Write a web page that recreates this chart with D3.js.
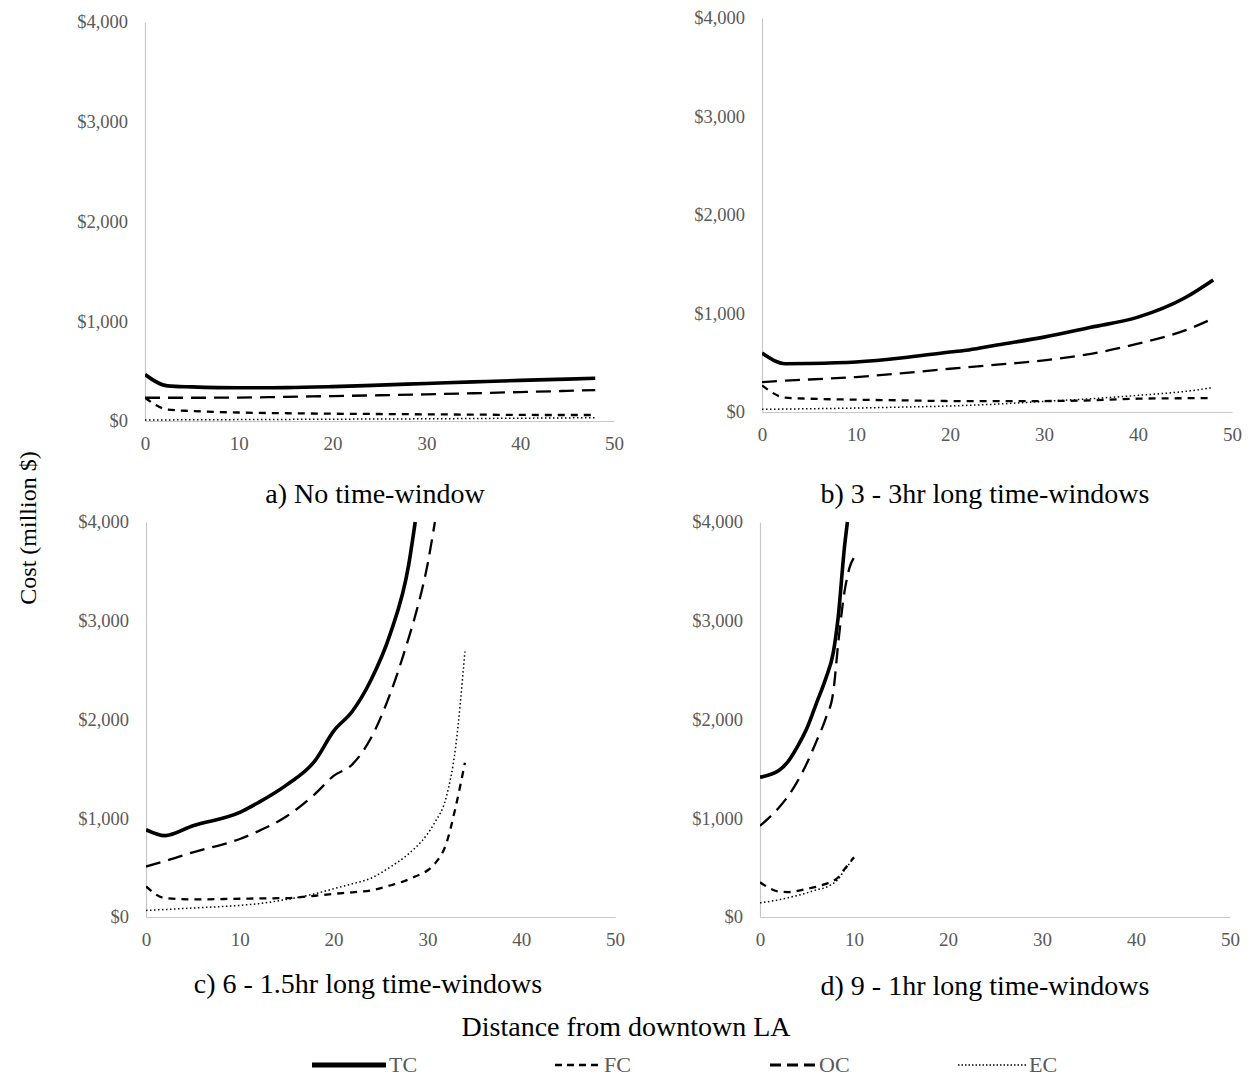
<!DOCTYPE html>
<html>
<head>
<meta charset="utf-8">
<script src="https://cdn.jsdelivr.net/npm/d3@7"></script>
<style>
  html, body { margin: 0; padding: 0; background: #fff; }
  svg { display: block; }
  text { font-family: "Liberation Serif", "DejaVu Serif", serif; }
</style>
</head>
<body>
<svg id="chart" width="1252" height="1078"></svg>
<script>
// ---------- DATA ----------
const seriesNames = ["TC", "FC", "OC", "EC"];
const yTicks = [0, 1000, 2000, 3000, 4000];
const xTicks = [0, 10, 20, 30, 40, 50];
const panelTitles = ["a) No time-window", "b) 3 - 3hr long time-windows",
                     "c) 6 - 1.5hr long time-windows", "d) 9 - 1hr long time-windows"];

// Panel a
const distA = [0, 2.4, 5, 10, 15, 20, 25, 30, 35, 40, 45, 48];
const tcA = [467, 352, 342, 333, 335, 345, 360, 376, 392, 407, 420, 428];
const fcA = [233, 115, 100, 85, 78, 73, 70, 67, 64, 61, 60, 60];
const ocA = [233, 233, 233, 235, 242, 250, 258, 267, 278, 290, 302, 310];
const ecA = [10, 11, 12, 14, 16, 18, 20, 22, 25, 28, 31, 33];

// Panel b
const distB = [0, 2.5, 5, 10, 15, 20, 22, 25, 30, 35, 40, 45, 48];
const tcB = [598, 490, 492, 507, 550, 610, 630, 680, 760, 860, 963, 1160, 1341];
const fcB = [270, 145, 135, 125, 118, 111, 110, 110, 111, 118, 135, 140, 142];
const ocB = [304, 318, 330, 355, 395, 439, 455, 480, 524, 591, 693, 828, 950];
const ecB = [27, 30, 33, 40, 50, 61, 68, 80, 108, 135, 169, 209, 247];

// Panel c
const distC = [0, 2, 5, 10, 12, 15, 18, 20, 22, 24, 26, 28, 28.7, 30, 30.8, 32, 33, 34];
const tcC = [884, 824, 924, 1059, 1160, 1338, 1580, 1882, 2084, 2403, 2857, 3563, 4000, null, null, null, null, null];
const fcC = [309, 192, 178, 185, 188, 192, 215, 235, 250, 270, 319, 380, 410, 471, 540, 740, 1109, 1563];
const ocC = [511, 565, 655, 790, 870, 1020, 1244, 1429, 1546, 1815, 2252, 2824, 3050, 3563, 4000, null, null, null];
const ecC = [67, 76, 91, 118, 135, 178, 235, 286, 336, 393, 504, 639, 700, 840, 960, 1210, 1714, 2689];

// Panel d
const distD = [0, 2, 3, 4, 5, 6, 7, 7.8, 8.3, 9, 9.3, 9.5, 10];
const tcD = [1416, 1483, 1577, 1728, 1913, 2164, 2416, 2680, 3020, 3758, 4000, null, null];
const fcD = [352, 258, 252, 265, 285, 305, 336, 365, 400, 487, 520, 545, 604];
const ocD = [923, 1107, 1225, 1376, 1560, 1779, 2013, 2282, 2752, 3300, 3450, 3530, 3640];
const ecD = [144, 174, 196, 218, 245, 275, 300, 340, 380, 477, 510, 540, 600];

// ---------- LAYOUT / STYLE ----------
const panels = [
  { dist: distA, vals: [tcA, fcA, ocA, ecA], xr: [145, 614], yr: [421, 22], title: [375, 503] },
  { dist: distB, vals: [tcB, fcB, ocB, ecB], xr: [762, 1232], yr: [412, 18], title: [985, 503] },
  { dist: distC, vals: [tcC, fcC, ocC, ecC], xr: [146, 615], yr: [917, 522], title: [368, 993] },
  { dist: distD, vals: [tcD, fcD, ocD, ecD], xr: [760, 1230], yr: [917, 522], title: [985, 995] }
];
const styles = {
  TC: { w: 3.6, dash: null },
  FC: { w: 2.3, dash: "7,6" },
  OC: { w: 2.3, dash: "15,8" },
  EC: { w: 1.5, dash: "1.5,2.5" }
};
const axisColor = "#c8c8c8";
const labelColor = "#595959";

const svg = d3.select("#chart");
svg.append("rect").attr("width", 1252).attr("height", 1078).attr("fill", "#fff");

const fmt = v => "$" + d3.format(",")(v);

panels.forEach((p, i) => {
  const x = d3.scaleLinear().domain([0, 50]).range(p.xr);
  const y = d3.scaleLinear().domain([0, 4000]).range(p.yr);
  const g = svg.append("g");

  // y axis
  const ya = g.append("g").attr("transform", `translate(${p.xr[0]},0)`)
    .call(d3.axisLeft(y).tickValues(yTicks).tickFormat(fmt).tickSize(0).tickPadding(17));
  ya.select(".domain").attr("stroke", axisColor).attr("stroke-width", 1.2);
  ya.selectAll("text").attr("fill", labelColor).attr("font-size", 18.5)
    .style("font-family", '"Liberation Serif", serif');

  // x axis
  const xa = g.append("g").attr("transform", `translate(0,${p.yr[0]})`)
    .call(d3.axisBottom(x).tickValues(xTicks).tickFormat(d3.format("d")).tickSize(0).tickPadding(16));
  xa.select(".domain").attr("stroke", axisColor).attr("stroke-width", 1.2);
  xa.selectAll("text").attr("fill", labelColor).attr("font-size", 19)
    .style("font-family", '"Liberation Serif", serif');

  // clip
  const cid = "clip" + i;
  svg.append("clipPath").attr("id", cid).append("rect")
    .attr("x", p.xr[0]).attr("y", p.yr[1] - 2)
    .attr("width", p.xr[1] - p.xr[0] + 10).attr("height", p.yr[0] - p.yr[1] + 4);

  const lines = g.append("g").attr("clip-path", `url(#${cid})`);
  // draw order: EC, FC, OC, TC
  [3, 1, 2, 0].forEach(si => {
    const name = seriesNames[si];
    const data = p.dist.map((d, k) => ({ d, v: p.vals[si][k] }));
    const line = d3.line()
      .defined(o => o.v !== null)
      .x(o => x(o.d)).y(o => y(o.v))
      .curve(d3.curveMonotoneX);
    lines.append("path")
      .datum(data)
      .attr("d", line)
      .attr("fill", "none")
      .attr("stroke", "#000")
      .attr("stroke-width", styles[name].w)
      .attr("stroke-dasharray", styles[name].dash)
      .attr("stroke-linejoin", "round");
  });

  // title
  svg.append("text")
    .attr("x", p.title[0]).attr("y", p.title[1])
    .attr("text-anchor", "middle")
    .attr("font-size", 28).attr("fill", "#000")
    .text(panelTitles[i]);
});

// y axis title
svg.append("text")
  .attr("transform", "translate(36,528) rotate(-90)")
  .attr("text-anchor", "middle")
  .attr("font-size", 24).attr("fill", "#000")
  .text("Cost (million $)");

// x axis title
svg.append("text")
  .attr("x", 626).attr("y", 1036)
  .attr("text-anchor", "middle")
  .attr("font-size", 28).attr("fill", "#000")
  .text("Distance from downtown LA");

// legend
const legendItems = [
  { name: "TC", x0: 312, x1: 386, w: 5, dash: null },
  { name: "FC", x0: 555, x1: 601, w: 2.5, dash: "7,5" },
  { name: "OC", x0: 770, x1: 816, w: 2.8, dash: "11,6" },
  { name: "EC", x0: 958, x1: 1026, w: 1.5, dash: "1.5,2" }
];
const ly = 1065;
legendItems.forEach(it => {
  svg.append("line")
    .attr("x1", it.x0).attr("x2", it.x1).attr("y1", ly).attr("y2", ly)
    .attr("stroke", "#000").attr("stroke-width", it.w)
    .attr("stroke-dasharray", it.dash);
  svg.append("text")
    .attr("x", it.x1 + 3).attr("y", ly + 7)
    .attr("font-size", 22).attr("fill", labelColor)
    .text(it.name);
});
</script>
</body>
</html>
